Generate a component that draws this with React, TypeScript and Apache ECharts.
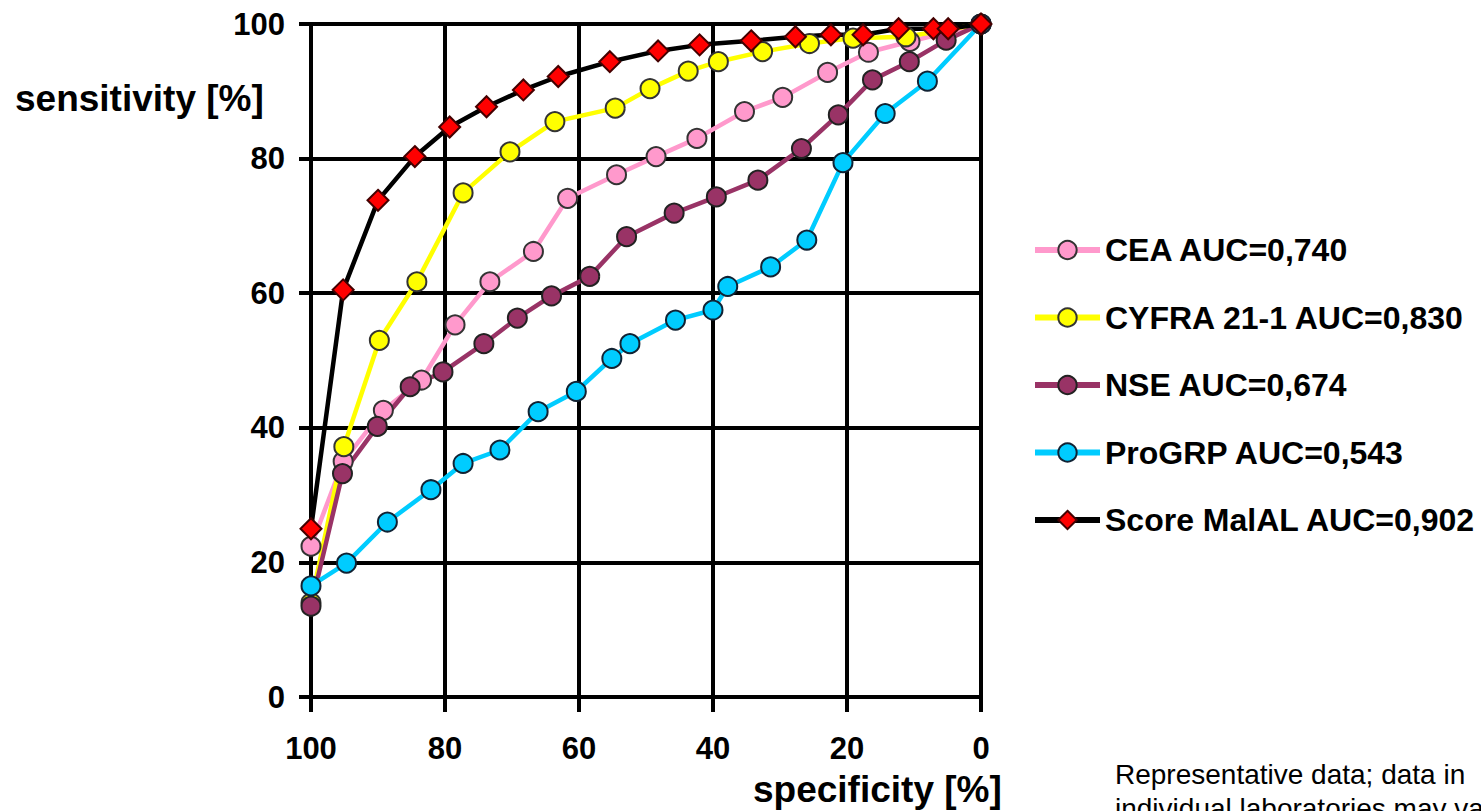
import React, { useEffect, useRef } from "react";
import * as echarts from "echarts";

const seriesNames = [
  "CEA AUC=0,740",
  "CYFRA 21-1 AUC=0,830",
  "NSE AUC=0,674",
  "ProGRP AUC=0,543",
  "Score MalAL AUC=0,902",
];

const ceaSpec = [100, 95.2, 89.2, 83.5, 78.5, 73.3, 66.8, 61.7, 54.4, 48.5, 42.4, 35.3, 29.6, 22.9, 16.8, 10.6, 0];
const ceaSens = [22.4, 35, 42.6, 47.1, 55.3, 61.7, 66.2, 74.1, 77.6, 80.3, 83, 87, 89.1, 92.8, 95.8, 97.4, 100];

const cyfraSpec = [100, 95.1, 89.8, 84.2, 77.3, 70.3, 63.6, 54.6, 49.4, 43.7, 39.2, 32.6, 25.6, 19.1, 11.2, 0];
const cyfraSens = [14, 37.2, 53, 61.7, 74.9, 81, 85.5, 87.5, 90.4, 93, 94.4, 95.9, 97.1, 97.9, 98.1, 100];

const nseSpec = [100, 95.3, 90.1, 85.2, 80.3, 74.2, 69.2, 64.1, 58.4, 52.9, 45.8, 39.5, 33.3, 26.8, 21.3, 16.2, 10.7, 5.2, 0];
const nseSens = [13.5, 33.2, 40.2, 46.1, 48.3, 52.5, 56.3, 59.6, 62.5, 68.4, 71.9, 74.3, 76.8, 81.5, 86.5, 91.7, 94.4, 97.6, 100];

const progrpSpec = [100, 94.7, 88.6, 82.1, 77.3, 71.8, 66.1, 60.4, 55.1, 52.4, 45.6, 40, 37.8, 31.4, 26, 20.6, 14.3, 8, 0];
const progrpSens = [16.5, 19.9, 26, 30.8, 34.7, 36.7, 42.4, 45.4, 50.3, 52.5, 56, 57.5, 61, 63.9, 67.9, 79.4, 86.7, 91.5, 100];

const scoreSpec = [100, 95.2, 90, 84.5, 79.3, 73.8, 68.3, 63.1, 55.4, 48.2, 42, 34.3, 27.7, 22.4, 17.6, 12.3, 7.1, 4.9, 0];
const scoreSens = [25, 60.5, 73.8, 80.3, 84.7, 87.7, 90.2, 92.2, 94.4, 96, 96.9, 97.5, 98.1, 98.4, 98.4, 99.3, 99.3, 99.3, 100];

const axisTicks = [0, 20, 40, 60, 80, 100];

const FONT = "'Liberation Sans', Arial, sans-serif";

function pairs(xs: number[], ys: number[]) {
  return xs.map((x, i) => [x, ys[i]]);
}

export default function App() {
  const ref = useRef<HTMLDivElement>(null);

  useEffect(() => {
    if (!ref.current) return;
    const chart = echarts.init(ref.current, undefined, { renderer: "svg" });

    const mk = (
      name: string,
      data: number[][],
      line: string,
      fill: string,
      border: string,
      symbol: string,
      size: number
    ) => ({
      name,
      type: "line",
      data,
      symbol,
      symbolSize: size,
      showAllSymbol: true,
      lineStyle: { color: line, width: 4.5 },
      itemStyle: { color: fill, borderColor: border, borderWidth: 2 },
      emphasis: { disabled: true },
    });

    chart.setOption({
      animation: false,
      backgroundColor: "#ffffff",
      grid: { left: 311, top: 24, width: 670, height: 673, containLabel: false },
      xAxis: {
        type: "value",
        inverse: true,
        min: axisTicks[0],
        max: axisTicks[axisTicks.length - 1],
        interval: 20,
        axisLine: { show: true, onZero: false, lineStyle: { color: "#000", width: 4 } },
        axisTick: { show: true, length: 15, lineStyle: { color: "#000", width: 4 } },
        splitLine: { show: true, lineStyle: { color: "#000", width: 4 } },
        axisLabel: {
          margin: 36,
          color: "#000",
          fontFamily: FONT,
          fontWeight: "bold",
          fontSize: 31,
        },
      },
      yAxis: {
        type: "value",
        min: axisTicks[0],
        max: axisTicks[axisTicks.length - 1],
        interval: 20,
        axisLine: { show: true, onZero: false, lineStyle: { color: "#000", width: 4 } },
        axisTick: { show: true, length: 12, lineStyle: { color: "#000", width: 4 } },
        splitLine: { show: true, lineStyle: { color: "#000", width: 4 } },
        axisLabel: {
          margin: 26,
          color: "#000",
          fontFamily: FONT,
          fontWeight: "bold",
          fontSize: 31,
        },
      },
      legend: {
        orient: "vertical",
        left: 1027,
        top: 229,
        itemWidth: 65,
        itemHeight: 23,
        itemGap: 35.5,
        data: seriesNames,
        lineStyle: { width: 6 },
        textStyle: {
          color: "#000",
          fontFamily: FONT,
          fontWeight: "bold",
          fontSize: 32,
          lineHeight: 32,
        },
      },
      graphic: [
        {
          type: "text",
          left: 15,
          top: 80,
          style: {
            text: "sensitivity [%]",
            fill: "#000",
            font: `bold 37px ${FONT}`,
          },
        },
        {
          type: "text",
          left: 753,
          top: 771,
          style: {
            text: "specificity [%]",
            fill: "#000",
            font: `bold 37px ${FONT}`,
          },
        },
        {
          type: "text",
          left: 1115,
          top: 757,
          style: {
            text: "Representative data; data in\nindividual laboratories may vary.",
            fill: "#000",
            font: `28px ${FONT}`,
            lineHeight: 34,
          },
        },
      ],
      series: [
        mk(seriesNames[0], pairs(ceaSpec, ceaSens), "#FF99CC", "#FF99CC", "#333", "circle", 19),
        mk(seriesNames[1], pairs(cyfraSpec, cyfraSens), "#FFFF00", "#FFFF00", "#333", "circle", 19),
        mk(seriesNames[2], pairs(nseSpec, nseSens), "#993366", "#993366", "#222", "circle", 19),
        mk(seriesNames[3], pairs(progrpSpec, progrpSens), "#00CCFF", "#00CCFF", "#123", "circle", 19),
        mk(seriesNames[4], pairs(scoreSpec, scoreSens), "#000000", "#FF0000", "#400", "diamond", 21),
      ],
    });

    return () => chart.dispose();
  }, []);

  return (
    <div
      ref={ref}
      style={{ position: "fixed", left: 0, top: 0, width: 1481, height: 811, background: "#fff" }}
    />
  );
}
